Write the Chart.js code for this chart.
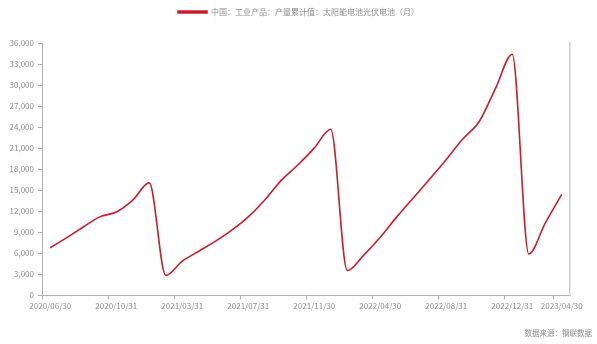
<!DOCTYPE html>
<html>
<head>
<meta charset="utf-8">
<script src="https://cdn.jsdelivr.net/npm/chart.js@4.4.0/dist/chart.umd.min.js"></script>
<style>
html,body{margin:0;padding:0;background:#fff;}
#wrap{width:597px;height:344px;position:relative;}
</style>
</head>
<body>
<div id="wrap"><canvas id="c" width="597" height="344"></canvas></div>
<script>
const categories = [
  '2020/06/30','2020/07/31','2020/08/31','2020/09/30','2020/10/31','2020/11/30','2020/12/31',
  '2021/02/28','2021/03/31','2021/04/30','2021/05/31','2021/06/30','2021/07/31','2021/08/31','2021/09/30','2021/10/31','2021/11/30','2021/12/31',
  '2022/02/28','2022/03/31','2022/04/30','2022/05/31','2022/06/30','2022/07/31','2022/08/31','2022/09/30','2022/10/31','2022/11/30','2022/12/31',
  '2023/02/28','2023/03/31','2023/04/30'
];
const seriesValues = [
  6800, 8250, 9750, 11200, 11900, 13600, 16050,
  2850, 4900, 6300, 7700, 9300, 11200, 13600, 16400, 18600, 21000, 23700,
  3550, 5750, 8300, 11200, 13900, 16600, 19400, 22300, 24800, 29600, 34400,
  5900, 10300, 14400
];
const shownTickLabels = ['2020/06/30','2020/10/31','2021/03/31','2021/07/31','2021/11/30','2022/04/30','2022/08/31','2022/12/31','2023/04/30'];
const seriesName = '中国：工业产品：产量累计值：太阳能电池光伏电池（月）';
const sourceText = '数据来源：钢联数据';

const RED = '#c81e2d';
const AXIS = '#b0b0b0';
const TXT = '#8c8c8c';
const FONT = '"Noto Sans CJK SC", "Noto Sans", sans-serif';

const sourcePlugin = {
  id: 'sourceText',
  afterDraw(chart) {
    const ctx = chart.ctx;
    ctx.save();
    ctx.font = '7.5px ' + FONT;
    ctx.fillStyle = TXT;
    ctx.textAlign = 'right';
    ctx.textBaseline = 'middle';
    ctx.fillText(sourceText, 592, 333);
    ctx.restore();
  }
};

const legendHeightPlugin = {
  id: 'legendHeight',
  beforeLayout(chart) {
    const lg = chart.legend;
    if (lg && !lg._fixedH) {
      const orig = lg.fit;
      lg.fit = function() { orig.call(this); this.height = 43; };
      lg._fixedH = true;
    }
  }
};

new Chart(document.getElementById('c'), {
  type: 'line',
  data: {
    labels: categories,
    datasets: [{
      label: seriesName,
      data: seriesValues,
      borderColor: RED,
      backgroundColor: RED,
      borderWidth: 1.6,
      pointRadius: 0,
      pointHoverRadius: 0,
      cubicInterpolationMode: 'monotone',
      fill: false
    }]
  },
  options: {
    responsive: false,
    animation: false,
    devicePixelRatio: 1,
    layout: { padding: { left: 0, right: 0, top: 0, bottom: 31 } },
    plugins: {
      legend: {
        display: true,
        position: 'top',
        labels: {
          boxWidth: 29,
          boxHeight: 2,
          padding: 8,
          color: TXT,
          font: { family: FONT, size: 8 }
        }
      },
      tooltip: { enabled: false }
    },
    scales: {
      x: {
        type: 'category',
        offset: true,
        grid: {
          offset: true,
          drawOnChartArea: false,
          drawTicks: true,
          tickLength: 4,
          color: (ctx) => {
            const i = ctx.index;
            if (i === undefined) return 'rgba(0,0,0,0)';
            const lab = categories[i];
            return (lab && shownTickLabels.includes(lab)) ? AXIS : 'rgba(0,0,0,0)';
          }
        },
        border: { display: true, color: AXIS, width: 1 },
        ticks: {
          autoSkip: false,
          maxRotation: 0,
          minRotation: 0,
          padding: 2,
          color: TXT,
          font: { family: FONT, size: 8 },
          callback: function(v, i) {
            const lab = categories[i];
            return shownTickLabels.includes(lab) ? lab : '';
          }
        }
      },
      y: {
        position: 'left',
        min: 0,
        max: 36000,
        afterFit: (s) => { s.width = 42; },
        grid: {
          drawOnChartArea: false,
          drawTicks: true,
          tickLength: 4,
          color: AXIS
        },
        border: { display: true, color: AXIS, width: 1 },
        ticks: {
          stepSize: 3000,
          padding: 4,
          color: TXT,
          font: { family: FONT, size: 8 },
          callback: (v) => v.toLocaleString('en-US')
        }
      },
      y2: {
        position: 'right',
        min: 0,
        max: 36000,
        afterFit: (s) => { s.width = 27; },
        grid: { display: true, drawOnChartArea: false, drawTicks: false, color: 'rgba(0,0,0,0)' },
        border: { display: true, color: '#d0d0d0', width: 1.5 },
        ticks: { display: false }
      }
    }
  },
  plugins: [sourcePlugin, legendHeightPlugin]
});
</script>
</body>
</html>
